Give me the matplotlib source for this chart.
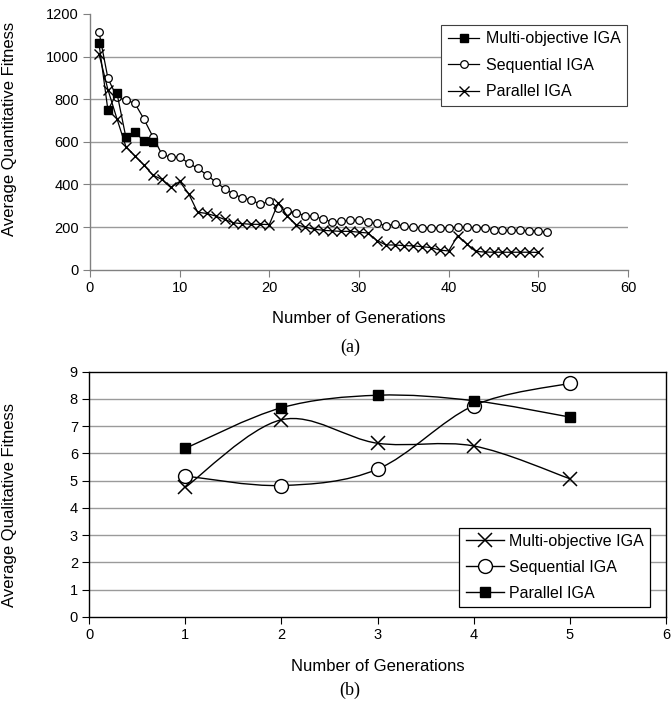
import numpy as np
import matplotlib
matplotlib.use("Agg")
import matplotlib.pyplot as plt
from matplotlib.path import Path
from matplotlib.patches import PathPatch
from matplotlib.lines import Line2D

plt.rcParams['font.family'] = ['Liberation Sans', 'DejaVu Sans']

# (a) quantitative fitness per generation
multi_gen = [1, 2, 3, 4, 5, 6, 7]
multi_fit = [1062, 748, 830, 622, 648, 603, 597]

seq_gen = list(range(1, 52))
seq_fit = [1117, 898, 810, 796, 781, 708, 625, 543, 527, 529,
           500, 476, 446, 412, 381, 355, 337, 328, 306, 322,
           290, 275, 266, 254, 250, 238, 224, 228, 232, 232,
           222, 218, 206, 214, 205, 200, 197, 196, 196, 198,
           199, 199, 198, 198, 186, 184, 184, 184, 183, 183,
           175]

par_gen = list(range(1, 51))
par_fit = [1013, 845, 709, 578, 534, 492, 444, 424, 386, 414,
           357, 270, 264, 252, 236, 220, 216, 213, 213, 212,
           314, 252, 211, 200, 190, 185, 182, 180, 180, 176,
           172, 137, 116, 116, 113, 112, 108, 104, 92, 88,
           159, 122, 86, 83, 82, 82, 82, 82, 82, 81]

# (b) qualitative fitness per generation
gen_b = [1, 2, 3, 4, 5]
multi_b = [4.75, 7.23, 6.37, 6.27, 5.07]
seq_b = [5.17, 4.82, 5.42, 7.75, 8.57]
par_b = [6.18, 7.67, 8.13, 7.93, 7.33]

names = ['Multi-objective IGA', 'Sequential IGA', 'Parallel IGA']
grid_col = '#9a9a9a'


def smooth_path(xs, ys):
    # bezier path through the points, like a spreadsheet "smoothed line"
    p = np.column_stack([xs, ys]).astype(float)
    verts = [p[0]]
    codes = [Path.MOVETO]
    n = len(p)
    for i in range(n - 1):
        prev = p[i - 1] if i > 0 else p[i]
        nxt = p[i + 2] if i + 2 < n else p[i + 1]
        c1 = p[i] + (p[i + 1] - prev) / 6
        c2 = p[i + 1] - (nxt - p[i]) / 6
        verts += [c1, c2, p[i + 1]]
        codes += [Path.CURVE4] * 3
    return Path(verts, codes)


fig = plt.figure(figsize=(6.71, 7.05), dpi=100)

# ---------- (a) ----------
ax = fig.add_axes([90 / 671, 1 - 269.7 / 705, 538 / 671, 255.7 / 705])
ax.set_xlim(0, 60)
ax.set_ylim(0, 1200)
ax.set_xticks(range(0, 61, 10))
ax.set_yticks(range(0, 1201, 200))
for v in range(200, 1001, 200):
    ax.axhline(v, color=grid_col, lw=1.0, zorder=0)
for s in ['top', 'right']:
    ax.spines[s].set_visible(False)
for s in ['left', 'bottom']:
    ax.spines[s].set_color('#808080')
    ax.spines[s].set_linewidth(1.0)
ax.tick_params(direction='out', length=5, color='#808080', labelsize=10.5, pad=3)

ax.plot(multi_gen, multi_fit, color='black', lw=0.9, marker='s', ms=5.5,
        mfc='black', mec='black', label=names[0], zorder=4)
ax.plot(seq_gen, seq_fit, color='black', lw=0.9, marker='o', ms=5.5,
        mfc='white', mec='black', mew=0.9, label=names[1], zorder=3)
ax.plot(par_gen, par_fit, color='black', lw=0.9, marker='x', ms=6.5,
        mec='black', mew=1.0, label=names[2], zorder=3)

leg = ax.legend(loc='upper right', bbox_to_anchor=(627 / 671, 1 - 25 / 705),
                bbox_transform=fig.transFigure, fontsize=11.5, frameon=True,
                fancybox=False, edgecolor='#404040', framealpha=1,
                handlelength=2.0, handletextpad=0.4, borderpad=0.4,
                labelspacing=0.72, borderaxespad=0)
leg.get_frame().set_linewidth(0.8)

ax.set_xlabel('Number of Generations', fontsize=12)
ax.xaxis.set_label_coords(0.5, -0.16)
ax.set_ylabel('Average Quantitative Fitness', fontsize=12)
ax.yaxis.set_label_coords(-0.136, 0.55)
fig.text(350 / 671, 1 - 347 / 705, '(a)', ha='center', va='center',
         fontsize=13, family=['Liberation Serif', 'DejaVu Serif'])

# ---------- (b) ----------
bx = fig.add_axes([89 / 671, 1 - 617 / 705, 577 / 671, 245.5 / 705])
bx.set_xlim(0, 6)
bx.set_ylim(0, 9)
bx.set_xticks(range(0, 7))
bx.set_yticks(range(0, 10))
for v in range(1, 9):
    bx.axhline(v, color=grid_col, lw=1.0, zorder=0)
for s in bx.spines.values():
    s.set_color('black')
    s.set_linewidth(1.0)
bx.tick_params(direction='out', length=5, color='black', labelsize=10.5, pad=3)

series_b = [(multi_b, 'x', 'black', 10, 1.1),
            (seq_b, 'o', 'white', 10, 1.0),
            (par_b, 's', 'black', 7, 1.0)]
handles = []
for (ys, mk, fc, ms, mw), nm in zip(series_b, names):
    bx.add_patch(PathPatch(smooth_path(gen_b, ys), fill=False,
                           edgecolor='black', lw=1.0, zorder=2))
    bx.plot(gen_b, ys, linestyle='none', marker=mk, ms=ms, mfc=fc,
            mec='black', mew=mw, zorder=3)
    handles.append(Line2D([], [], color='black', lw=1.0, marker=mk, ms=ms,
                          mfc=fc, mec='black', mew=mw, label=nm))

leg2 = bx.legend(handles=handles, loc='lower right',
                 bbox_to_anchor=(650 / 671, 1 - 607 / 705),
                 bbox_transform=fig.transFigure, fontsize=11.5, frameon=True,
                 fancybox=False, edgecolor='black', framealpha=1,
                 handlelength=2.4, handletextpad=0.3, borderpad=0.4,
                 labelspacing=0.68, borderaxespad=0)
leg2.get_frame().set_linewidth(0.9)

bx.set_xlabel('Number of Generations', fontsize=12)
bx.xaxis.set_label_coords(0.5, -0.17)
bx.set_ylabel('Average Qualitative Fitness', fontsize=12)
bx.yaxis.set_label_coords(-0.125, 0.455)
fig.text(350 / 671, 1 - 690 / 705, '(b)', ha='center', va='center',
         fontsize=13, family=['Liberation Serif', 'DejaVu Serif'])

fig.savefig('out.png', dpi=100)
